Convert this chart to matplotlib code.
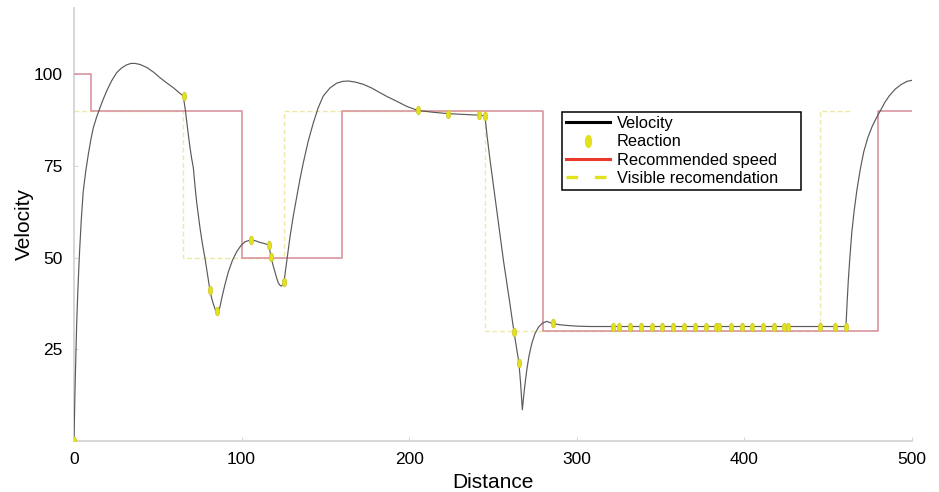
import matplotlib
matplotlib.use("Agg")
import matplotlib.pyplot as plt
from matplotlib.path import Path
from matplotlib.transforms import Affine2D
from matplotlib.lines import Line2D

plt.rcParams['font.family'] = ['Liberation Sans', 'DejaVu Sans']

# Velocity curve (distance, velocity)
vel_x = [0, 0.6, 1.2, 1.6, 2.3, 3.2, 4.3, 5.5, 7, 8.5, 10, 11.5, 13.5, 15.5, 17.5,
         19.5, 22.5, 25.5, 28.5, 31.4, 34, 36.4, 39.5, 43.4, 47.5, 51.3, 55.3,
         59.2, 62.3, 65.2, 66.5, 67.8, 69.2, 70.2, 71.2, 72.2, 73.2, 74.2, 75.2,
         76.7, 78.2, 79.7, 81.1, 82.1, 83.1, 84.2, 85.3, 86.5, 87.3, 88.1, 90,
         92.1, 94.5, 97.1, 99.5, 102, 105.6, 108, 111, 113.7, 116.3, 117.5,
         118.7, 119.9, 121, 122, 123, 123.7, 124.5, 125.3, 126.5, 127.7, 128.9,
         130.9, 132.9, 134.8, 136.8, 139.8, 142.8, 145.7, 148.7, 152.7, 156.7,
         160.2, 163.7, 168, 172.6, 177.6, 182.6, 187.5, 192.5, 198.5, 205, 214,
         223.3, 232, 241.8, 245.2, 246.5, 248.2, 250.2, 252.2, 254.2, 256.2,
         258.2, 260.1, 261.3, 262.5, 264, 265.5, 266.5, 267.5, 268.7, 270.1,
         271.5, 273.1, 275, 277.1, 279.5, 282, 285.6, 289.5, 294, 300, 307.9,
         320, 460.6, 461.2, 462, 463, 464.1, 465.5, 467.1, 469, 471.2, 473.6,
         476.3, 478.7, 481, 483.7, 486.5, 490, 493.7, 497, 500]
vel_y = [0, 14, 25, 32, 41, 50.5, 60, 68, 73.5, 78, 82, 85.3, 88.3, 90.8, 93.2,
         95.4, 98.2, 100.4, 101.7, 102.5, 102.9, 102.9, 102.6, 101.8, 100.5, 99, 97.6,
         96.3, 95.1, 94, 90, 85, 80, 77, 74.5, 69.5, 65, 61.5, 58,
         53.5, 49.7, 45.3, 41.1, 39, 37.4, 35.9, 35, 35.5, 37, 38.8, 42.5,
         46.1, 49.2, 51.6, 53.2, 54.3, 54.8, 54.6, 54.1, 53.8, 53.4, 50.2,
         48, 46.1, 44.3, 43, 42.4, 42.2, 42.6, 43.4, 47.5, 51.8, 55.7,
         61.5, 66.6, 71.3, 75.8, 81.8, 86.7, 90.8, 94, 96.2, 97.5,
         98, 98.1, 97.8, 97.2, 96.2, 94.9, 93.7, 92.6, 91.2, 90.1, 89.6,
         89.2, 89, 88.8, 88.6, 83, 76.7, 69.8, 63, 56, 49.3,
         43.2, 37.4, 33.5, 29.8, 25.5, 21.2, 15.5, 8.5, 14, 19.2,
         23.2, 26.5, 29.2, 31, 32.1, 32.6, 32, 31.7, 31.5, 31.3, 31.2,
         31.2, 31.2, 37, 43.8, 50.5, 56.9, 62.8, 68.3, 73.7, 78.8, 82.6,
         85.8, 88, 89.9, 92.2, 94.1, 95.9, 97.2, 98, 98.3]

# Reaction points
react_x = [0, 65.4, 81.1, 85.5, 105.6, 116.3, 117.5, 125.3, 205, 223.3, 241.8, 245.2,
           262.5, 265.5, 285.6, 321.8, 325.4, 331.7, 338.1, 344.7, 351.0, 357.6,
           364.0, 370.6, 376.9, 383.1, 385.0, 391.8, 398.4, 404.7, 411.1, 417.5,
           423.8, 425.8, 445.3, 454.1, 460.6]
react_y = [0, 94, 41.1, 35.3, 54.8, 53.4, 50.2, 43.4, 90.1, 89.2, 88.8, 88.7,
           29.8, 21.2, 32.1] + [31.2] * 22

# Recommended speed (step, value holds from each x until the next)
rec_x = [0, 10, 100, 160, 280, 480, 500]
rec_y = [100, 90, 50, 90, 30, 90, 90]

# Visible recommendation (step)
vis_x = [0, 65, 125, 245, 445, 464]
vis_y = [90, 50, 90, 30, 90, 90]

x_ticks = [0, 100, 200, 300, 400, 500]
y_ticks = [25, 50, 75, 100]

fig = plt.figure(figsize=(9.39, 4.92), dpi=100)
ax = fig.add_axes([74 / 939, 1 - 441 / 492, 838 / 939, 433 / 492])

ell = Path.unit_circle().transformed(Affine2D().scale(0.5, 1.0))

ax.step(vis_x, vis_y, where='post', color='#ece9a6', lw=1.0,
        dashes=(3.5, 2), zorder=2)
ax.step(rec_x, rec_y, where='post', color='#d78c98', lw=1.1, zorder=3)
ax.plot(vel_x, vel_y, color='#5a5a5a', lw=0.85, zorder=4)
ax.plot(react_x, react_y, linestyle='none', marker=ell, markersize=6.2,
        markerfacecolor='#e3e11e', markeredgecolor='#c9c62a', markeredgewidth=0.5,
        zorder=5)

ax.set_xlim(0, 500)
ax.set_ylim(0, 118)
ax.set_xticks(x_ticks)
ax.set_yticks(y_ticks)
ax.tick_params(axis='both', direction='in', length=3, color='#d8d8d8',
               labelsize=12.5, pad=8)
for s in ['top', 'right']:
    ax.spines[s].set_visible(False)
for s in ['left', 'bottom']:
    ax.spines[s].set_color('#d4d4d4')
    ax.spines[s].set_linewidth(1.3)

ax.set_xlabel('Distance', fontsize=15, labelpad=4)
ax.set_ylabel('Velocity', fontsize=15, labelpad=0)

handles = [
    Line2D([], [], color='black', lw=2.2),
    Line2D([], [], linestyle='none', marker=ell, markersize=8.5,
           markerfacecolor='#e3e11e', markeredgecolor='#e3e11e'),
    Line2D([], [], color='#e8392a', lw=2.2),
    Line2D([], [], color='#e3e11e', lw=2.4, dashes=(3.5, 5)),
]
labels = ['Velocity', 'Reaction', 'Recommended speed', 'Visible recomendation']
leg = ax.legend(handles, labels, loc='upper left',
                bbox_to_anchor=(0.582, 0.575, 0.286, 0.185), mode='expand',
                fontsize=11.8, handlelength=2.7, handletextpad=0.4,
                labelspacing=0.2, borderpad=0.25, borderaxespad=0,
                fancybox=False, framealpha=1, edgecolor='black')
leg.get_frame().set_linewidth(1.1)

fig.savefig('out.png', dpi=100)
